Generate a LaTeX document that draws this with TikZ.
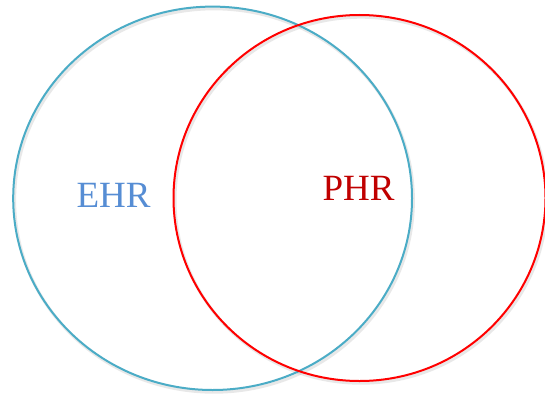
\documentclass[tikz,border=0pt]{standalone}
\usepackage{fontspec}
\setmainfont{Liberation Serif}
\usetikzlibrary{shapes.geometric}
\definecolor{ehrline}{RGB}{75,172,198}
\definecolor{phrline}{RGB}{255,0,0}
\definecolor{ehrtext}{RGB}{86,141,212}
\definecolor{phrtext}{RGB}{192,0,0}
\tikzset{
  setshape/.style={ellipse, inner sep=0pt, line width=2pt},
  shadowshape/.style={ellipse, inner sep=0pt, draw=black!25, line width=3pt, opacity=0.35},
  setlabel/.style={inner sep=0pt, font=\fontsize{37}{42}\selectfont}
}
\begin{document}
\begin{tikzpicture}[x=1pt,y=-1pt]
\useasboundingbox (0,0) rectangle (545,396);
\fill[white] (0,0) rectangle (545,396);
% soft shadows
\node[shadowshape, minimum width=398.8pt, minimum height=383.4pt] (ehrsh) at (214,200.5) {};
\node[shadowshape, minimum width=372pt, minimum height=366pt] (phrsh) at (361,200.2) {};
% circles
\node[setshape, draw=ehrline, minimum width=398.8pt, minimum height=383.4pt] (ehr) at (212.6,198.3) {};
\node[setshape, draw=phrline, minimum width=372pt, minimum height=366pt] (phr) at (359.5,198) {};
% labels
\node[setlabel, text=ehrtext] (ehrlabel) at (113.5,195) {EHR};
\node[setlabel, text=phrtext] (phrlabel) at (358.5,188.5) {PHR};
\end{tikzpicture}
\end{document}
